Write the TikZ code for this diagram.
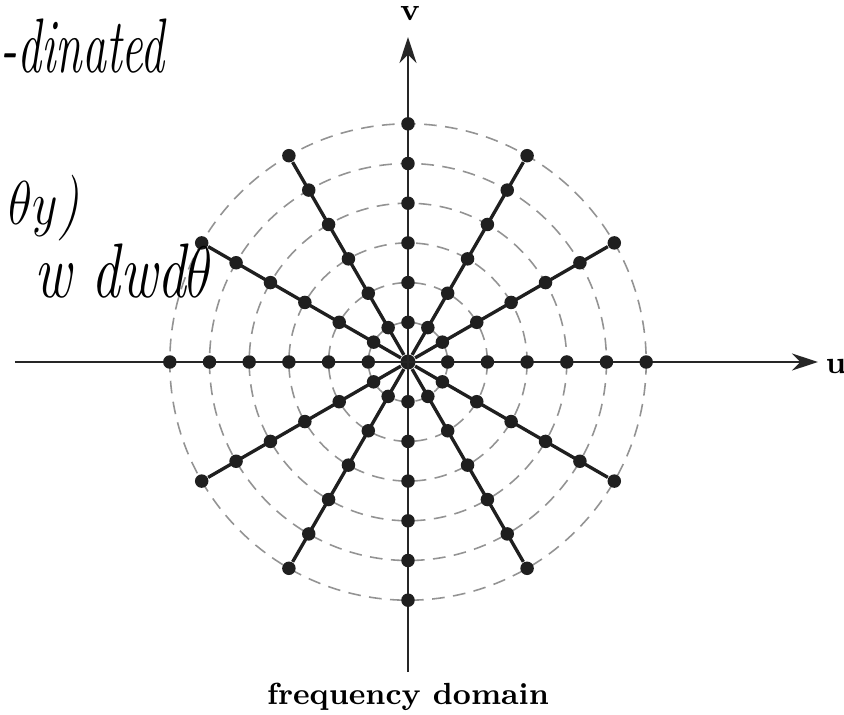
\documentclass[tikz,border=0pt]{standalone}
\usepackage{amsmath,amssymb}
\usepackage{xcolor}
\usepackage{graphicx}
\usepackage{tikz}
\usetikzlibrary{arrows.meta,calc}
\tikzset{
  dot/.style={circle, fill=black!88, inner sep=0pt, minimum size=1.35mm},
  hub/.style={dot, minimum size=1.5mm},
  spoke/.style={black!88, line width=0.95pt},
  axis/.style={black!85, line width=0.65pt,
               -{Stealth[length=2.6mm, width=1.7mm]}},
  ring/.style={gray!85, line width=0.45pt, dash pattern=on 3.6pt off 2.4pt},
  axlbl/.style={font=\fontsize{9}{10}\selectfont\bfseries, inner sep=1pt},
  title/.style={font=\fontsize{8.7}{10}\selectfont\bfseries, inner sep=1pt},
  hand/.style={font=\fontsize{22}{22}\selectfont\itshape, inner sep=0pt,
               anchor=base west},
}
\begin{document}
\begin{tikzpicture}[x=0.1mm, y=-0.1mm]
  \useasboundingbox (0,0) rectangle (844,715);
  \node[hub] (o) at (408,362) {};
  % axes
  \coordinate (ul) at (15,362);
  \coordinate (ur) at (818,362);
  \coordinate (vb) at (408,672);
  \coordinate (vt) at (408,37);
  \draw[axis] (ul) -- (ur);
  \draw[axis] (vb) -- (vt);
  \node[axlbl] (u) at (836,366) {u};
  \node[axlbl] (v) at (410,14) {v};
  % rings
  \foreach \k in {1,...,6}
    \draw[ring] (o.center) circle [radius=\k*39.7];
  % sample points (spokes off the axes)
  \foreach \a in {0,30,...,330}{
    \foreach \k in {1,...,6}
      \node[dot] (s\a-\k) at ($(o.center)+(\a:\k*39.7)$) {};
  }
  \foreach \a in {30,60,120,150,210,240,300,330}
    \draw[spoke] (o) -- (s\a-6);
  \node[title] (cap) at (408,697) {frequency domain};
  % handwritten notes
  \node[hand] (n1) at (0,72) {\scalebox{0.62}[1]{-dinated}};
  \node[hand] (n2) at (8,224) {\scalebox{0.68}[0.85]{$\theta y$)}};
  \node[hand] (n3) at (34,297) {\scalebox{0.74}[1]{w dwd$\theta$}};
\end{tikzpicture}
\end{document}
